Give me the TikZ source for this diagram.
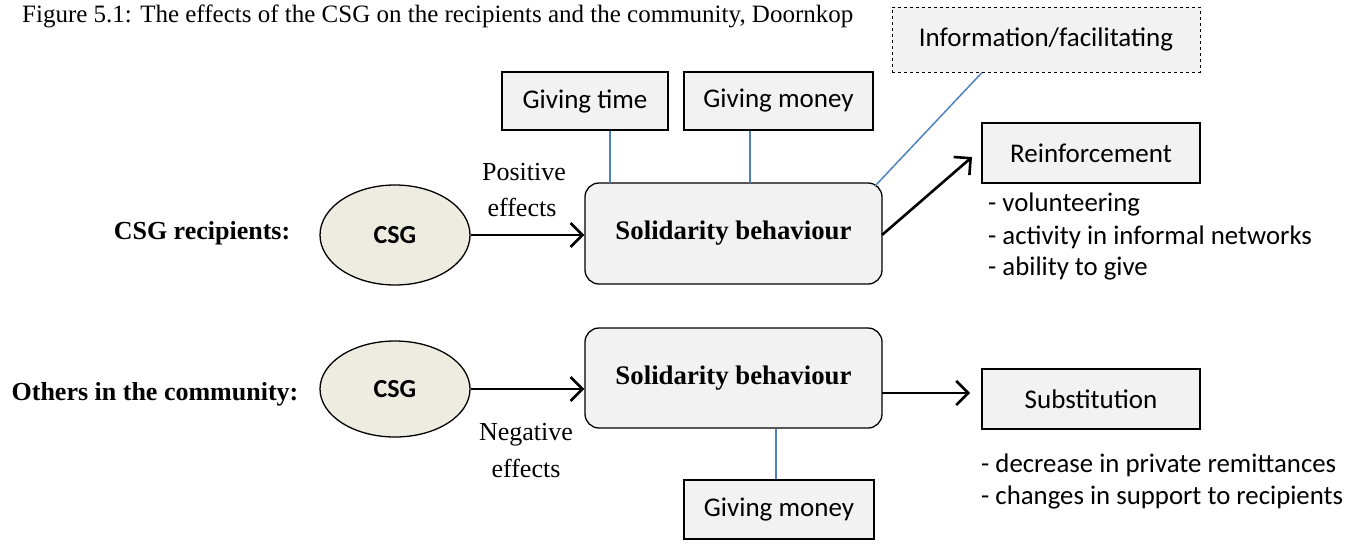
\documentclass[tikz,border=0pt]{standalone}
\usepackage{fontspec}
\setmainfont{Liberation Serif}
\newfontfamily\calfont{Carlito}
\usetikzlibrary{arrows.meta,shapes.geometric}
\definecolor{boxfill}{HTML}{F2F2F2}
\definecolor{ellfill}{HTML}{EEECE1}
\definecolor{linkblue}{HTML}{4F81BD}
\tikzset{
  sqbox/.style={draw=black, line width=1.3pt, fill=boxfill, font=\calfont\fontsize{27}{31}\selectfont, inner sep=0pt},
  rbox/.style={draw=black, line width=1.3pt, fill=boxfill, rounded corners=14pt, font=\bfseries\fontsize{26.8}{30}\selectfont, inner sep=0pt},
  ell/.style={draw=black, line width=1.3pt, fill=ellfill, ellipse, inner sep=0pt, font=\calfont\bfseries\fontsize{26}{30}\selectfont},
  serif/.style={font=\fontsize{26}{30}\selectfont, inner sep=0pt},
  seriflbl/.style={font=\bfseries\fontsize{26}{30}\selectfont, inner sep=0pt},
  bul/.style={font=\calfont\fontsize{26.8}{30}\selectfont, inner sep=0pt, anchor=west},
  arr/.style={line width=2.6pt, -{Straight Barb[length=12pt,width=24pt,line width=2.6pt]}},
  link/.style={draw=linkblue, line width=1.5pt}
}
\begin{document}
\begin{tikzpicture}[x=1pt,y=-1pt]
\useasboundingbox (0,0) rectangle (1359,542);
% caption
\node[font=\fontsize{25}{28}\selectfont, inner sep=0pt, anchor=west] (cap) at (22,16) {Figure 5.1: The effects of the CSG on the recipients and the community, Doornkop};
% top boxes
\node[sqbox, dashed, line width=1pt, minimum width=308pt, minimum height=65pt] (info) at (1046,39.5) {Information/facilitating};
\node[sqbox, minimum width=166pt, minimum height=58pt] (gtime) at (585,101) {Giving time};
\node[sqbox, minimum width=189pt, minimum height=58pt] (gmoney) at (778.5,101) {Giving money};
% row 1
\node[rbox, minimum width=297pt, minimum height=101pt] (sol1) at (733.5,233.5) {Solidarity behaviour};
\node[ell, minimum width=150pt, minimum height=100pt] (csg1) at (395,235) {CSG};
\node[seriflbl] (lbl1) at (202,233) {CSG recipients:};
\node[serif] (pos1) at (524,172) {Positive};
\node[serif] (pos2) at (522,207) {effects};
\node[sqbox, minimum width=218pt, minimum height=60pt] (reinf) at (1091,153) {Reinforcement};
\node[bul] (b1) at (988,204) {- volunteering};
\node[bul] (b2) at (988,237) {- activity in informal networks};
\node[bul] (b3) at (988,268) {- ability to give};
% row 2
\node[rbox, minimum width=297pt, minimum height=100pt] (sol2) at (733.5,378) {Solidarity behaviour};
\node[ell, minimum width=150pt, minimum height=96pt] (csg2) at (395,389) {CSG};
\node[seriflbl] (lbl2) at (155,394) {Others in the community:};
\node[serif] (neg1) at (526,435) {Negative};
\node[serif] (neg2) at (526,468) {effects};
\node[sqbox, minimum width=218pt, minimum height=60pt] (subst) at (1091,399) {Substitution};
\node[bul] (c1) at (981,465) {- decrease in private remittances};
\node[bul] (c2) at (981,497) {- changes in support to recipients};
\node[sqbox, minimum width=190pt, minimum height=59pt] (gmoney2) at (779,509.5) {Giving money};
% connectors
\draw[arr] (csg1.east) -- (sol1.west |- csg1.east);
\draw[arr] (csg2.east) -- (sol2.west |- csg2.east);
\coordinate (r1) at (882,235);
\coordinate (rt) at (972,157);
\draw[arr] (r1) -- (rt);
\coordinate (r2) at (882,393);
\coordinate (s2) at (970,393);
\draw[arr] (r2) -- (s2);
\draw[link] (gtime.south -| 610,0) -- (610,183);
\draw[link] (gmoney.south -| 750,0) -- (750,183);
\draw[link] (info.south -| 982,0) -- (875,186);
\draw[link] (sol2.south -| 776,0) -- (gmoney2.north -| 776,0);
\end{tikzpicture}
\end{document}
